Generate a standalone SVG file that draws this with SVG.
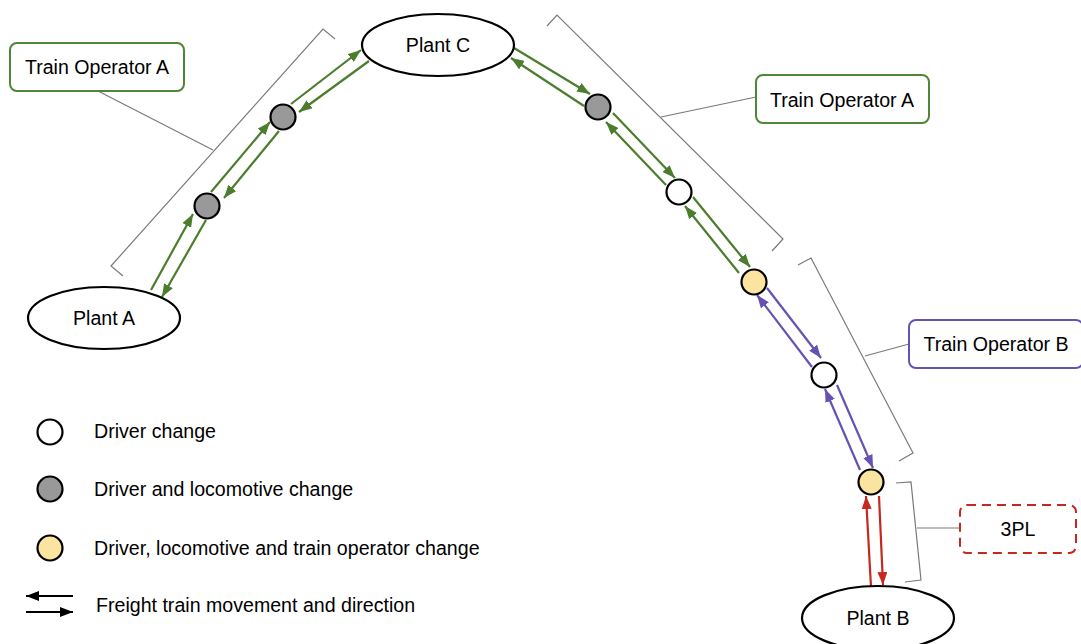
<svg xmlns="http://www.w3.org/2000/svg" width="1081" height="644" viewBox="0 0 1081 644">
<defs>
<style>
text{font-family:"Liberation Sans",Arial,sans-serif;font-size:19.6px;fill:#000}
.c{text-anchor:middle}
.plant{fill:#fff;stroke:#000;stroke-width:2.2}
.stop{stroke:#000;stroke-width:2.2}
.white{fill:#fff}
.gray{fill:#999}
.yellow{fill:#fbe3a0}
.g{stroke:#4b7d2c;stroke-width:2.2;fill:none;marker-end:url(#ag)}
.p{stroke:#6752b3;stroke-width:2.2;fill:none;marker-end:url(#ap)}
.r{stroke:#c5281f;stroke-width:2.2;fill:none;marker-end:url(#ar)}
.k{stroke:#000;stroke-width:2.2;fill:none;marker-end:url(#ak)}
.br{stroke:#7a7a7a;stroke-width:1.2;fill:none}
.boxg{fill:#fff;stroke:#4f8736;stroke-width:2}
.boxp{fill:#fff;stroke:#6752b3;stroke-width:2}
.boxr{fill:#fff;stroke:#c5281f;stroke-width:2;stroke-dasharray:9 6}
</style>
<marker id="ag" markerUnits="userSpaceOnUse" markerWidth="13" markerHeight="10" refX="13" refY="5" orient="auto"><path d="M0,0 L13,5 L0,10 z" fill="#4b7d2c"/></marker>
<marker id="ap" markerUnits="userSpaceOnUse" markerWidth="13" markerHeight="10" refX="13" refY="5" orient="auto"><path d="M0,0 L13,5 L0,10 z" fill="#6752b3"/></marker>
<marker id="ar" markerUnits="userSpaceOnUse" markerWidth="13" markerHeight="10" refX="13" refY="5" orient="auto"><path d="M0,0 L13,5 L0,10 z" fill="#c5281f"/></marker>
<marker id="ak" markerUnits="userSpaceOnUse" markerWidth="13" markerHeight="10" refX="13" refY="5" orient="auto"><path d="M0,0 L13,5 L0,10 z" fill="#000"/></marker>
</defs>
<rect width="1081" height="644" fill="#fff"/>

<g id="brackets">
<polyline class="br" points="335,39 323,29 111,266 123,276"/>
<line class="br" x1="98" y1="91" x2="213" y2="150"/>
<polyline class="br" points="547,26 557,15 783,239 772,251"/>
<line class="br" x1="756" y1="97" x2="661" y2="117"/>
<polyline class="br" points="798,265 811,258 913,453 899,461"/>
<line class="br" x1="909" y1="344" x2="865" y2="356"/>
<polyline class="br" points="896,483 911,482 921,580 905,582"/>
<line class="br" x1="917" y1="528" x2="960" y2="528"/>
</g>

<g id="connectors">
<line class="g" x1="151" y1="290" x2="193" y2="214"/>
<line class="g" x1="206" y1="220" x2="162" y2="297"/>
<line class="g" x1="211" y1="192" x2="270" y2="122"/>
<line class="g" x1="279" y1="131" x2="224" y2="198"/>
<line class="g" x1="291" y1="104" x2="361" y2="50"/>
<line class="g" x1="369" y1="61" x2="299" y2="112"/>
<line class="g" x1="514" y1="48" x2="590" y2="94"/>
<line class="g" x1="584" y1="106" x2="511" y2="58"/>
<line class="g" x1="613" y1="113" x2="675" y2="178"/>
<line class="g" x1="666" y1="185" x2="606" y2="122"/>
<line class="g" x1="693" y1="197" x2="750" y2="267"/>
<line class="g" x1="739" y1="273" x2="685" y2="206"/>
<line class="p" x1="767" y1="288" x2="821" y2="358"/>
<line class="p" x1="812" y1="367" x2="757" y2="295"/>
<line class="p" x1="837" y1="385" x2="873" y2="468"/>
<line class="p" x1="860" y1="470" x2="825" y2="389"/>
<line class="r" x1="871" y1="587" x2="866" y2="496"/>
<line class="r" x1="879" y1="496" x2="883" y2="585"/>
</g>

<g id="plantA"><ellipse class="plant" cx="104" cy="318" rx="76" ry="31"/><text class="c" x="104" y="325">Plant A</text></g>
<g id="plantC"><ellipse class="plant" cx="438" cy="45" rx="76" ry="31"/><text class="c" x="438" y="52">Plant C</text></g>
<g id="plantB"><ellipse class="plant" cx="878" cy="618" rx="76" ry="32"/><text class="c" x="878" y="625">Plant B</text></g>

<g id="stopGray1"><circle class="stop gray" cx="207" cy="206" r="12.5"/></g>
<g id="stopGray2"><circle class="stop gray" cx="283" cy="117" r="12.5"/></g>
<g id="stopGray3"><circle class="stop gray" cx="598" cy="107" r="12.5"/></g>
<g id="stopWhite1"><circle class="stop white" cx="679" cy="192" r="12.5"/></g>
<g id="stopYellow1"><circle class="stop yellow" cx="754" cy="282" r="12.5"/></g>
<g id="stopWhite2"><circle class="stop white" cx="824" cy="375" r="12.5"/></g>
<g id="stopYellow2"><circle class="stop yellow" cx="871" cy="482" r="12.5"/></g>

<g id="operatorA1"><rect class="boxg" x="10" y="43" width="174" height="48" rx="7"/><text class="c" x="97" y="74">Train Operator A</text></g>
<g id="operatorA2"><rect class="boxg" x="756" y="75" width="173" height="48" rx="7"/><text class="c" x="842" y="107">Train Operator A</text></g>
<g id="operatorB"><rect class="boxp" x="909" y="320" width="174" height="48" rx="7"/><text class="c" x="996" y="351">Train Operator B</text></g>
<g id="thirdPL"><rect class="boxr" x="960" y="505" width="116" height="48" rx="7"/><text class="c" x="1018" y="536">3PL</text></g>

<g id="legend">
<circle class="stop white" cx="50" cy="432" r="12.5"/>
<text x="94" y="438">Driver change</text>
<circle class="stop gray" cx="50" cy="489" r="12.5"/>
<text x="94" y="496">Driver and locomotive change</text>
<circle class="stop yellow" cx="50" cy="548" r="12.5"/>
<text x="94" y="555">Driver, locomotive and train operator change</text>
<line class="k" x1="73" y1="596" x2="26" y2="596"/>
<line class="k" x1="26" y1="612" x2="73" y2="612"/>
<text x="96" y="612">Freight train movement and direction</text>
</g>
</svg>
